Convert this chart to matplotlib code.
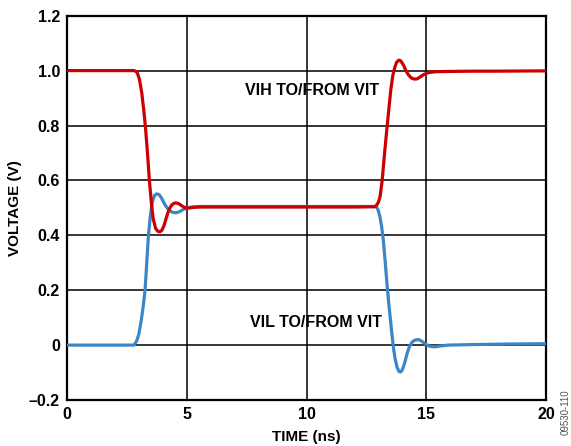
import matplotlib
matplotlib.use("Agg")
import matplotlib.pyplot as plt

# VIH TO/FROM VIT (red)
vih_t = [0, 2.8, 2.92, 3.02, 3.12, 3.2, 3.28, 3.36, 3.44, 3.52, 3.6, 3.7, 3.8, 3.88, 3.96,
         4.05, 4.15, 4.25, 4.35, 4.45, 4.55, 4.65, 4.8, 4.95, 5.1, 5.3, 5.6, 6.5, 8, 10, 12,
         12.85, 12.93, 13.0, 13.07, 13.16, 13.26, 13.37, 13.45, 13.52, 13.6, 13.68, 13.76,
         13.85, 13.93, 14.05, 14.15, 14.25, 14.38, 14.5, 14.62, 14.75, 14.9, 15.1, 15.4,
         16, 17, 18, 20]
vih_v = [1.0, 1.0, 0.995, 0.97, 0.92, 0.86, 0.79, 0.70, 0.60, 0.52, 0.46, 0.425, 0.414, 0.413, 0.418,
         0.435, 0.465, 0.492, 0.508, 0.516, 0.518, 0.516, 0.507, 0.500, 0.499, 0.502, 0.503, 0.503, 0.503, 0.503, 0.503,
         0.504, 0.51, 0.52, 0.54, 0.60, 0.70, 0.80, 0.87, 0.93, 0.98, 1.01, 1.03,
         1.038, 1.036, 1.02, 1.0, 0.985, 0.973, 0.969, 0.970, 0.977, 0.986, 0.993, 0.996,
         0.997, 0.998, 0.998, 0.999]

# VIL TO/FROM VIT (blue)
vil_t = [0, 2.8, 2.91, 3.0, 3.1, 3.18, 3.26, 3.33, 3.40, 3.48, 3.56, 3.65, 3.75, 3.85, 3.95,
         4.1, 4.25, 4.4, 4.55, 4.7, 4.85, 5.0, 5.2, 5.5, 6, 8, 10, 12,
         12.85, 12.93, 13.0, 13.07, 13.14, 13.21, 13.28, 13.35, 13.42, 13.49, 13.56, 13.63,
         13.7, 13.78, 13.86, 13.93, 14.0, 14.1, 14.2, 14.3, 14.42, 14.55, 14.68, 14.8, 14.95,
         15.1, 15.25, 15.4, 15.6, 15.9, 17, 18.5, 20]
vil_v = [0.0, 0.0, 0.015, 0.04, 0.09, 0.14, 0.2, 0.3, 0.4, 0.47, 0.52, 0.545, 0.551, 0.548, 0.535,
         0.51, 0.492, 0.484, 0.482, 0.486, 0.494, 0.5, 0.503, 0.505, 0.505, 0.505, 0.505, 0.505,
         0.505, 0.503, 0.49, 0.465, 0.43, 0.38, 0.31, 0.235, 0.165, 0.105, 0.045, -0.01,
         -0.05, -0.08, -0.096, -0.098, -0.09, -0.065, -0.03, -0.005, 0.012, 0.019, 0.02, 0.015, 0.005,
         -0.003, -0.006, -0.006, -0.003, 0.0, 0.002, 0.004, 0.005]

x_ticks = [0, 5, 10, 15, 20]
y_ticks = [-0.2, 0, 0.2, 0.4, 0.6, 0.8, 1.0, 1.2]
y_tick_labels = ["\u20130.2", "0", "0.2", "0.4", "0.6", "0.8", "1.0", "1.2"]

plt.rcParams['font.family'] = ['Liberation Sans', 'DejaVu Sans']
plt.rcParams['font.weight'] = 'bold'

FS = 11.5

fig = plt.figure(figsize=(5.71, 4.46), dpi=100)
ax = fig.add_axes([67 / 571, 1 - 400 / 446, (546 - 67) / 571, (400 - 15.7) / 446])

ax.plot(vil_t, vil_v, color='#3B86C6', lw=2.3, solid_joinstyle='round', zorder=3)
ax.plot(vih_t, vih_v, color='#CC0000', lw=2.3, solid_joinstyle='round', zorder=4)

ax.set_xlim(0, 20)
ax.set_ylim(-0.2, 1.2)
ax.set_xticks(x_ticks)
ax.set_xticklabels([str(t) for t in x_ticks], fontsize=FS, fontweight='bold')
ax.set_yticks(y_ticks)
ax.set_yticklabels(y_tick_labels, fontsize=FS, fontweight='bold')
ax.tick_params(length=0, pad=5)
ax.grid(True, color='black', lw=1.1, zorder=1)
ax.set_axisbelow(True)
for s in ax.spines.values():
    s.set_linewidth(1.6)
    s.set_color('black')

ax.set_xlabel("TIME (ns)", fontsize=11, fontweight='bold', labelpad=6)
ax.set_ylabel("VOLTAGE (V)", fontsize=11, fontweight='bold', labelpad=5)

ax.text(10.23, 0.926, "VIH TO/FROM VIT", ha='center', va='center', fontsize=FS,
        fontweight='bold', zorder=5)
ax.text(10.4, 0.081, "VIL TO/FROM VIT", ha='center', va='center', fontsize=FS,
        fontweight='bold', zorder=5)

fig.text(566 / 571, 1 - 412 / 446, "09530-110", rotation=90, ha='center', va='center',
         fontsize=7, color='#555555', fontweight='normal')

fig.savefig("out.png", dpi=100)
